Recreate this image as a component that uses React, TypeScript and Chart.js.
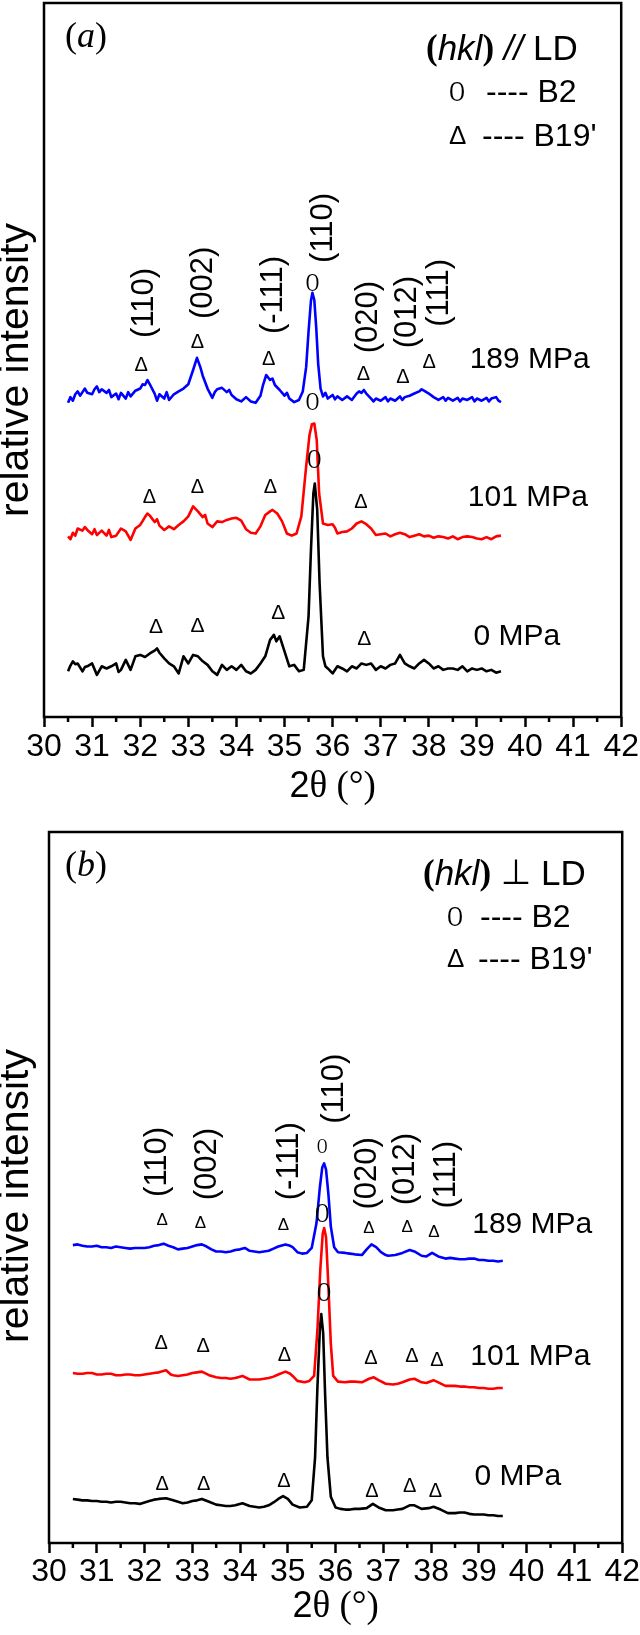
import React, { useEffect, useRef } from 'react';
import { Chart, registerables } from 'chart.js';
Chart.register(...registerables);

const SANS = '"Liberation Sans", Arial, sans-serif';
const SERIF = '"Liberation Serif", "Times New Roman", serif';

// ---------- x axis ----------
const xMin = 30;
const xMax = 42;
const minorTicks = [30.5, 31.5, 32.5, 33.5, 34.5, 35.5, 36.5, 37.5, 38.5, 39.5, 40.5, 41.5];

// ---------- panel (a) series: [2theta, relative intensity] ----------
const a189: [number, number][] = [[30.5,44.0],[30.55,44.8],[30.6,44.3],[30.65,45.2],[30.7,45.6],[30.75,45.0],[30.8,45.5],[30.85,46.0],[30.9,45.4],[31.0,45.2],[31.05,45.9],[31.1,46.3],[31.15,45.5],[31.2,45.9],[31.3,45.4],[31.35,45.8],[31.4,44.8],[31.5,45.3],[31.55,44.5],[31.6,45.4],[31.7,44.6],[31.75,45.5],[31.8,44.9],[31.9,45.7],[32.0,46.0],[32.05,46.6],[32.1,46.5],[32.15,47.2],[32.2,46.6],[32.3,45.3],[32.35,44.3],[32.4,45.2],[32.5,44.6],[32.55,45.5],[32.6,44.4],[32.7,45.2],[32.8,45.6],[32.9,46.0],[33.0,46.6],[33.1,48.6],[33.18,50.3],[33.25,49.0],[33.3,47.8],[33.4,46.0],[33.5,44.7],[33.55,45.5],[33.6,45.9],[33.7,46.1],[33.8,45.5],[33.85,45.8],[33.9,45.1],[34.0,44.5],[34.1,44.2],[34.2,44.8],[34.3,44.2],[34.4,44.0],[34.5,45.0],[34.55,46.4],[34.62,47.9],[34.7,47.2],[34.75,47.4],[34.8,46.5],[34.9,45.8],[35.0,45.0],[35.05,45.4],[35.1,44.6],[35.2,44.1],[35.3,44.4],[35.38,45.6],[35.45,49.0],[35.5,54.0],[35.55,58.3],[35.58,59.4],[35.62,58.4],[35.66,54.5],[35.7,49.5],[35.75,46.0],[35.8,44.9],[35.85,45.4],[35.9,44.6],[36.0,45.1],[36.05,44.5],[36.1,44.9],[36.2,44.4],[36.3,44.9],[36.4,44.4],[36.5,45.3],[36.55,45.6],[36.6,45.4],[36.65,45.8],[36.7,45.3],[36.8,44.6],[36.85,44.2],[36.9,44.6],[37.0,44.3],[37.1,44.8],[37.15,44.2],[37.2,44.6],[37.3,44.3],[37.4,44.9],[37.45,44.4],[37.5,44.8],[37.6,45.0],[37.7,45.3],[37.8,45.6],[37.85,45.9],[37.9,45.7],[38.0,45.3],[38.1,44.8],[38.2,44.4],[38.3,44.8],[38.35,44.3],[38.4,44.7],[38.5,44.3],[38.6,44.7],[38.65,44.2],[38.7,44.6],[38.8,44.4],[38.9,44.8],[38.95,44.2],[39.0,44.6],[39.1,44.3],[39.2,44.7],[39.25,44.2],[39.3,44.6],[39.4,44.8],[39.45,44.3],[39.5,44.1]];

const a101: [number, number][] = [[30.5,25.3],[30.55,24.9],[30.6,25.8],[30.65,25.4],[30.7,26.4],[30.8,26.1],[30.85,26.6],[30.9,26.2],[31.0,25.6],[31.05,26.3],[31.1,25.5],[31.2,26.1],[31.3,25.4],[31.35,26.2],[31.4,25.2],[31.5,25.4],[31.6,26.4],[31.7,26.0],[31.8,24.8],[31.85,25.6],[31.9,26.4],[32.0,26.9],[32.1,28.0],[32.15,28.5],[32.2,28.2],[32.3,27.3],[32.35,27.7],[32.4,26.8],[32.5,26.2],[32.6,26.7],[32.7,26.3],[32.8,26.9],[32.9,27.4],[33.0,28.1],[33.1,29.5],[33.2,28.8],[33.3,28.0],[33.35,28.3],[33.4,27.1],[33.5,26.6],[33.6,27.4],[33.7,27.3],[33.8,27.6],[33.9,27.8],[34.0,27.9],[34.1,27.5],[34.2,26.3],[34.3,25.8],[34.4,25.7],[34.5,26.7],[34.6,28.3],[34.7,28.8],[34.75,29.0],[34.85,28.5],[34.95,27.4],[35.05,25.7],[35.15,25.4],[35.25,25.7],[35.35,28.1],[35.45,35.1],[35.52,39.5],[35.57,41.0],[35.62,41.1],[35.67,38.8],[35.72,31.3],[35.8,27.1],[35.9,26.9],[36.0,27.0],[36.05,26.5],[36.1,25.7],[36.2,25.9],[36.3,26.0],[36.4,26.4],[36.5,27.1],[36.6,27.4],[36.7,27.0],[36.8,26.4],[36.9,25.5],[37.0,25.6],[37.1,25.7],[37.2,25.3],[37.3,25.6],[37.4,25.8],[37.5,25.6],[37.6,25.2],[37.7,25.4],[37.8,25.6],[37.9,25.3],[38.0,25.4],[38.1,25.1],[38.2,25.3],[38.3,25.2],[38.4,25.0],[38.5,25.3],[38.6,24.9],[38.7,25.2],[38.8,25.3],[38.9,25.2],[39.0,25.0],[39.1,24.9],[39.2,25.2],[39.3,24.9],[39.4,25.3],[39.5,25.4]];

const a0: [number, number][] = [[30.5,6.4],[30.55,7.2],[30.6,7.8],[30.65,7.4],[30.7,7.5],[30.8,6.4],[30.85,7.0],[30.9,7.1],[31.0,7.5],[31.1,5.9],[31.2,7.1],[31.3,6.8],[31.4,7.1],[31.5,7.5],[31.55,6.3],[31.6,6.6],[31.7,8.0],[31.8,6.6],[31.9,8.5],[32.0,8.7],[32.1,8.4],[32.2,8.9],[32.3,9.3],[32.35,9.6],[32.4,9.0],[32.5,8.2],[32.6,7.5],[32.7,7.1],[32.8,6.1],[32.9,8.5],[33.0,7.5],[33.1,8.7],[33.2,8.5],[33.3,7.8],[33.4,7.3],[33.5,6.4],[33.6,5.9],[33.7,7.3],[33.8,6.6],[33.9,7.1],[34.0,6.6],[34.1,7.3],[34.2,6.4],[34.3,6.1],[34.4,6.6],[34.5,7.5],[34.6,8.5],[34.7,10.8],[34.78,11.5],[34.83,10.6],[34.9,11.3],[35.0,9.2],[35.1,7.1],[35.2,7.3],[35.3,6.4],[35.4,6.6],[35.5,14.1],[35.55,23.4],[35.6,31.3],[35.63,32.7],[35.68,29.0],[35.73,18.7],[35.8,8.5],[35.85,7.1],[35.9,6.8],[36.0,6.1],[36.1,7.1],[36.2,6.8],[36.3,6.4],[36.4,7.1],[36.5,6.8],[36.6,7.5],[36.7,7.3],[36.8,7.5],[36.9,6.6],[37.0,7.1],[37.1,6.8],[37.2,7.3],[37.3,7.5],[37.4,8.7],[37.5,7.5],[37.6,7.1],[37.7,6.8],[37.8,7.5],[37.9,8.0],[38.0,7.5],[38.1,6.8],[38.2,7.1],[38.3,6.6],[38.4,6.8],[38.5,6.8],[38.6,6.6],[38.7,7.1],[38.8,6.4],[38.9,6.8],[39.0,6.6],[39.1,6.8],[39.2,6.4],[39.3,6.6],[39.4,6.2],[39.5,6.4]];

// ---------- panel (b) series ----------
const b189: [number, number][] = [[30.5,41.9],[30.6,42.0],[30.7,41.8],[30.8,41.7],[30.9,41.7],[31.0,41.8],[31.1,41.6],[31.2,41.6],[31.3,41.5],[31.4,41.7],[31.5,41.6],[31.6,41.5],[31.7,41.4],[31.8,41.5],[31.9,41.5],[32.0,41.5],[32.1,41.6],[32.2,41.8],[32.3,41.9],[32.4,42.1],[32.5,41.8],[32.6,41.6],[32.7,41.3],[32.8,41.4],[32.9,41.5],[33.0,41.7],[33.1,41.9],[33.2,42.0],[33.3,41.7],[33.4,41.3],[33.5,41.0],[33.6,41.0],[33.7,40.9],[33.8,41.0],[33.9,41.2],[34.0,41.3],[34.1,41.5],[34.2,41.1],[34.3,41.0],[34.4,40.9],[34.5,41.0],[34.6,41.1],[34.7,41.4],[34.8,41.7],[34.95,42.0],[35.05,41.8],[35.1,41.6],[35.2,40.9],[35.3,40.7],[35.4,40.8],[35.5,41.5],[35.6,45.0],[35.67,50.0],[35.72,52.8],[35.76,53.4],[35.8,52.5],[35.85,49.0],[35.9,44.5],[35.97,41.6],[36.05,40.9],[36.2,40.8],[36.3,40.7],[36.4,40.6],[36.55,40.5],[36.65,41.3],[36.75,42.0],[36.85,41.6],[36.95,40.9],[37.05,40.5],[37.1,40.4],[37.25,40.5],[37.4,40.8],[37.55,41.2],[37.65,41.0],[37.8,40.4],[37.9,40.3],[38.02,40.8],[38.15,40.3],[38.3,40.0],[38.4,40.1],[38.5,40.0],[38.6,39.9],[38.7,39.9],[38.8,40.0],[38.9,40.0],[39.0,39.8],[39.1,39.8],[39.2,39.7],[39.3,39.7],[39.4,39.6],[39.5,39.7]];

const b101: [number, number][] = [[30.5,23.9],[30.6,23.8],[30.7,23.8],[30.8,23.9],[30.9,23.9],[31.0,23.7],[31.1,23.7],[31.2,23.8],[31.3,23.8],[31.4,23.6],[31.5,23.6],[31.6,23.7],[31.7,23.7],[31.8,23.6],[31.9,23.6],[32.0,23.7],[32.1,23.8],[32.2,23.9],[32.3,24.0],[32.45,24.3],[32.55,23.7],[32.6,23.6],[32.7,23.5],[32.8,23.6],[32.9,23.7],[33.0,23.9],[33.1,24.0],[33.2,24.1],[33.35,23.6],[33.5,23.3],[33.6,23.2],[33.7,23.2],[33.8,23.1],[33.9,23.2],[34.05,23.5],[34.2,23.0],[34.3,23.0],[34.4,23.0],[34.5,23.1],[34.6,23.2],[34.7,23.4],[34.8,23.7],[34.95,24.1],[35.05,23.8],[35.1,23.5],[35.2,22.8],[35.35,22.6],[35.45,22.8],[35.55,23.5],[35.62,30.0],[35.68,38.5],[35.73,43.5],[35.76,44.3],[35.8,43.0],[35.85,36.0],[35.9,28.0],[35.95,23.5],[36.05,22.7],[36.2,22.6],[36.3,22.7],[36.4,22.7],[36.55,22.6],[36.7,23.1],[36.8,23.3],[36.9,22.9],[37.05,22.4],[37.2,22.3],[37.3,22.4],[37.4,22.6],[37.55,23.0],[37.65,23.1],[37.8,22.6],[37.9,22.5],[38.05,22.9],[38.15,22.6],[38.3,22.1],[38.4,22.1],[38.5,22.1],[38.6,22.0],[38.7,22.0],[38.8,21.9],[38.9,21.9],[39.0,21.8],[39.1,21.8],[39.2,21.7],[39.3,21.7],[39.4,21.8],[39.5,21.8]];

const b0: [number, number][] = [[30.5,6.2],[30.6,6.1],[30.7,6.0],[30.8,6.0],[30.9,5.9],[31.0,5.9],[31.1,5.8],[31.2,5.8],[31.3,5.7],[31.4,5.8],[31.5,5.8],[31.6,5.7],[31.7,5.6],[31.8,5.6],[31.9,5.5],[32.0,5.7],[32.1,5.9],[32.2,6.1],[32.3,6.2],[32.45,6.3],[32.6,6.0],[32.7,5.8],[32.8,5.6],[32.9,5.7],[33.0,5.9],[33.1,6.0],[33.2,6.2],[33.35,5.8],[33.5,5.4],[33.6,5.3],[33.7,5.2],[33.8,5.2],[33.9,5.3],[34.05,5.6],[34.2,5.2],[34.3,5.1],[34.4,5.0],[34.5,5.1],[34.6,5.3],[34.7,5.7],[34.8,6.2],[34.9,6.6],[35.0,6.2],[35.1,5.4],[35.25,5.0],[35.4,5.1],[35.5,6.0],[35.57,12.0],[35.62,22.0],[35.67,30.0],[35.7,32.2],[35.74,29.5],[35.78,21.0],[35.83,12.0],[35.9,6.5],[36.0,5.0],[36.1,4.8],[36.2,4.7],[36.3,4.7],[36.4,4.8],[36.5,4.8],[36.65,4.9],[36.78,5.5],[36.9,5.0],[37.05,4.6],[37.2,4.6],[37.3,4.7],[37.4,4.8],[37.55,5.3],[37.65,5.3],[37.8,4.8],[37.95,4.9],[38.05,5.1],[38.2,4.7],[38.35,4.2],[38.5,4.2],[38.6,4.3],[38.7,4.3],[38.8,4.1],[38.9,4.0],[39.0,4.0],[39.1,4.0],[39.2,3.9],[39.3,3.9],[39.4,3.8],[39.5,3.8]];

// ---------- annotations ----------
const pressureLabels = ['189 MPa', '101 MPa', '0 MPa'];
const peakNames = ['(110)', '(002)', '(-111)', '(110)', '(020)', '(012)', '(111)'];

const aPeakX = [32.09, 33.32, 34.76, 35.81, 36.74, 37.55, 38.22];
const aPeakY = [58.0, 60.8, 59.1, 68.5, 56.0, 56.7, 59.4];
const aTri189X = [32.02, 33.19, 34.67, 36.64, 37.46, 38.01];
const aTri189Y = [49.3, 52.5, 50.1, 48.0, 47.6, 49.6];
const aTri101X = [32.19, 33.19, 34.71, 36.59];
const aTri101Y = [30.7, 32.2, 32.1, 30.1];
const aTri0X = [32.33, 33.19, 34.87, 36.66];
const aTri0Y = [12.6, 12.7, 14.6, 10.9];
const aCircX = [35.58, 35.58, 35.62];
const aCircY = [60.6, 44.0, 35.9];
const aPressX = [38.85, 38.81, 38.93];
const aPressY = [50.0, 30.7, 11.2];

const bPeakX = [32.26, 33.32, 35.03, 35.97, 36.66, 37.47, 38.32];
const bPeakY = [53.6, 53.3, 53.7, 63.9, 52.0, 52.6, 51.8];
const bTri189X = [32.37, 33.17, 34.91, 36.7, 37.5, 38.06];
const bTri189Y = [45.4, 45.0, 44.7, 44.3, 44.4, 43.7];
const bTri101X = [32.35, 33.23, 34.93, 36.74, 37.6, 38.12];
const bTri101Y = [28.1, 27.6, 26.4, 26.0, 26.3, 25.7];
const bTri0X = [32.37, 33.24, 34.92, 36.76, 37.55, 38.09];
const bTri0Y = [8.2, 8.2, 8.6, 7.2, 7.9, 7.2];
const bCircX = [35.72, 35.72, 35.76];
const bCircY = [55.6, 46.1, 35.0];
const bPressX = [38.86, 38.82, 38.91];
const bPressY = [44.7, 26.2, 9.3];

interface Panel {
  tag: string;
  perp: boolean;
  series: [number, number][][];
  peakX: number[]; peakY: number[];
  triX: number[][]; triY: number[][]; triSize: number[];
  circX: number[]; circY: number[]; circSize: number[];
  pressX: number[]; pressY: number[];
  height: number;
  padTop: number; padLeft: number; axisH: number; tickPad: number;
  yTitleY: number; xTitleY: number;
  legendY: number[]; legendX: number[];
}

const COLORS = ['#0000ff', '#ff0000', '#000000'];

function drawPieces(ctx: CanvasRenderingContext2D, pieces: [string, string][], x: number, y: number, center = false) {
  ctx.textBaseline = 'middle';
  ctx.textAlign = 'left';
  let w = 0;
  for (const [t, f] of pieces) { ctx.font = f; w += ctx.measureText(t).width; }
  let cx = center ? x - w / 2 : x;
  for (const [t, f] of pieces) { ctx.font = f; ctx.fillText(t, cx, y); cx += ctx.measureText(t).width; }
}

function drawOval(ctx: CanvasRenderingContext2D, x: number, y: number, size: number) {
  ctx.save();
  ctx.font = `${size}px ${SERIF}`;
  ctx.textAlign = 'center'; ctx.textBaseline = 'middle';
  ctx.translate(x, y);
  ctx.scale(0.72, 1);
  ctx.fillText('O', 0, 0);
  ctx.restore();
}

function makePlugin(p: Panel) {
  return {
    id: 'decor_' + p.tag,
    afterDraw(chart: any) {
      const ctx: CanvasRenderingContext2D = chart.ctx;
      const { left, right, top, bottom } = chart.chartArea;
      const xs = chart.scales.x;
      const ys = chart.scales.y;
      ctx.save();
      ctx.strokeStyle = '#000';
      ctx.fillStyle = '#000';
      ctx.lineWidth = 2.5;
      ctx.strokeRect(left, top, right - left, bottom - top);
      // minor ticks
      for (const v of minorTicks) {
        const px = xs.getPixelForValue(v);
        ctx.beginPath(); ctx.moveTo(px, bottom); ctx.lineTo(px, bottom + 5); ctx.stroke();
      }
      // rotated peak labels
      ctx.font = `31px ${SANS}`;
      ctx.textAlign = 'center'; ctx.textBaseline = 'middle';
      p.peakX.forEach((x, i) => {
        ctx.save();
        ctx.translate(xs.getPixelForValue(x), ys.getPixelForValue(p.peakY[i]));
        ctx.rotate(-Math.PI / 2);
        ctx.fillText(peakNames[i], 0, 0);
        ctx.restore();
      });
      // triangles
      p.triX.forEach((arr, s) => {
        ctx.font = `${p.triSize[s]}px ${SANS}`;
        ctx.textAlign = 'center'; ctx.textBaseline = 'middle';
        arr.forEach((x, i) => ctx.fillText('\u0394', xs.getPixelForValue(x), ys.getPixelForValue(p.triY[s][i])));
      });
      // circles
      p.circX.forEach((x, i) => drawOval(ctx, xs.getPixelForValue(x), ys.getPixelForValue(p.circY[i]), p.circSize[i]));
      // pressure labels
      ctx.font = `30px ${SANS}`;
      ctx.textAlign = 'left'; ctx.textBaseline = 'middle';
      p.pressX.forEach((x, i) => ctx.fillText(pressureLabels[i], xs.getPixelForValue(x), ys.getPixelForValue(p.pressY[i])));
      // panel tag
      drawPieces(ctx, [['(', `36px ${SERIF}`], [p.tag, `italic 36px ${SERIF}`], [')', `36px ${SERIF}`]], 86, p.legendY[3], true);
      // legend line 1
      const l1: [string, string][] = [['(', `bold 35px ${SERIF}`], ['hkl', `italic 35px ${SANS}`], [')', `bold 35px ${SERIF}`], [' ', `35px ${SANS}`]];
      if (p.perp) { l1.push(['\u22A5', `35px "DejaVu Sans", ${SANS}`]); l1.push([' LD', `35px ${SANS}`]); }
      else { l1.push(['//', `italic 35px ${SANS}`]); l1.push([' LD', `35px ${SANS}`]); }
      drawPieces(ctx, l1, p.legendX[0], p.legendY[0]);
      drawOval(ctx, p.legendX[1] + 8, p.legendY[1], 30);
      drawPieces(ctx, [['---- B2', `32px ${SANS}`]], p.legendX[2], p.legendY[1]);
      drawPieces(ctx, [['\u0394', `26px ${SANS}`]], p.legendX[1], p.legendY[2]);
      drawPieces(ctx, [["---- B19'", `32px ${SANS}`]], p.legendX[3], p.legendY[2]);
      // y title
      ctx.save();
      ctx.font = `41px ${SANS}`;
      ctx.textAlign = 'center'; ctx.textBaseline = 'middle';
      ctx.translate(17, p.yTitleY);
      ctx.rotate(-Math.PI / 2);
      ctx.fillText('relative intensity', 0, 0);
      ctx.restore();
      // x title
      drawPieces(ctx, [['2', `36px ${SANS}`], ['\u03B8 (\u00B0)', `37px ${SERIF}`]], (left + right) / 2, p.xTitleY, true);
      ctx.restore();
    },
  };
}

function buildConfig(p: Panel): any {
  return {
    type: 'line',
    data: {
      datasets: p.series.map((s, i) => ({
        data: s.map(([x, y]) => ({ x, y })),
        borderColor: COLORS[i],
        borderWidth: 2.6,
        borderJoinStyle: 'round',
        pointRadius: 0,
        tension: 0,
        fill: false,
      })),
    },
    options: {
      responsive: false,
      animation: false,
      devicePixelRatio: 1,
      layout: { padding: { left: p.padLeft, right: 17, top: p.padTop, bottom: 0 } },
      plugins: { legend: { display: false }, tooltip: { enabled: false } },
      scales: {
        x: {
          type: 'linear', min: xMin, max: xMax,
          afterFit: (s: any) => { s.height = p.axisH; },
          ticks: { stepSize: 1, autoSkip: false, maxRotation: 0, color: '#000', padding: p.tickPad, font: { family: SANS, size: 32 } },
          grid: { drawOnChartArea: false, drawTicks: true, tickLength: 10, tickWidth: 2.5, tickColor: '#000' },
          border: { display: false },
        },
        y: { display: false, min: 0, max: 100 },
      },
    },
    plugins: [makePlugin(p)],
  };
}

const panelA: Panel = {
  tag: 'a', perp: false, series: [a189, a101, a0],
  peakX: aPeakX, peakY: aPeakY,
  triX: [aTri189X, aTri101X, aTri0X], triY: [aTri189Y, aTri101Y, aTri0Y], triSize: [20, 20, 21],
  circX: aCircX, circY: aCircY, circSize: [26, 26, 27],
  pressX: aPressX, pressY: aPressY,
  height: 815, padTop: 3, padLeft: 44, axisH: 98, tickPad: 1,
  yTitleY: 370, xTitleY: 787,
  legendY: [50, 93, 137, 38], legendX: [426, 449, 486, 482],
};

const panelB: Panel = {
  tag: 'b', perp: true, series: [b189, b101, b0],
  peakX: bPeakX, peakY: bPeakY,
  triX: [bTri189X, bTri101X, bTri0X], triY: [bTri189Y, bTri101Y, bTri0Y], triSize: [17, 20, 20],
  circX: bCircX, circY: bCircY, circSize: [20, 27, 27],
  pressX: bPressX, pressY: bPressY,
  height: 820, padTop: 17, padLeft: 49, axisH: 92, tickPad: 0,
  yTitleY: 381, xTitleY: 792,
  legendY: [60, 103, 145, 52], legendX: [423, 447, 480, 478],
};

function PanelChart({ p, top }: { p: Panel; top: number }) {
  const ref = useRef<HTMLCanvasElement | null>(null);
  useEffect(() => {
    if (!ref.current) return;
    const chart = new Chart(ref.current, buildConfig(p));
    return () => chart.destroy();
  }, [p]);
  return (
    <canvas
      ref={ref}
      width={640}
      height={p.height}
      style={{ position: 'absolute', left: 0, top, width: 640, height: p.height, display: 'block' }}
    />
  );
}

export default function App() {
  return (
    <div style={{ position: 'absolute', left: 0, top: 0, width: 640, height: 1635, background: '#fff' }}>
      <PanelChart p={panelA} top={0} />
      <PanelChart p={panelB} top={815} />
    </div>
  );
}
